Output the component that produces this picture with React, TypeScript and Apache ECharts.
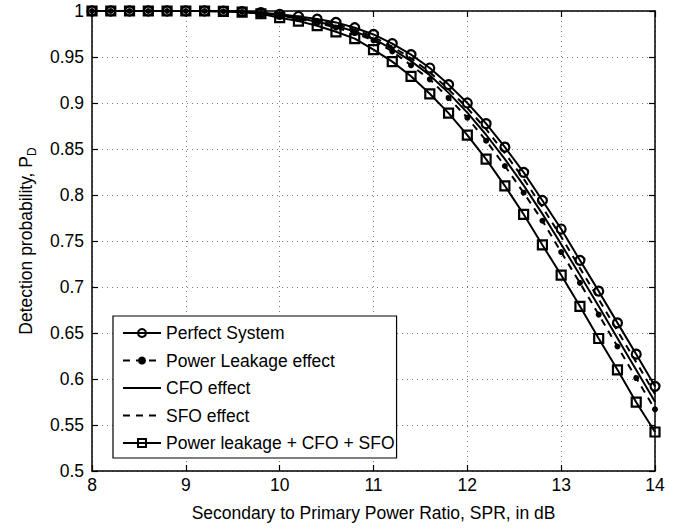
import React, { useEffect, useRef } from "react";
import * as echarts from "echarts";

const spr = [8.0, 8.2, 8.4, 8.6, 8.8, 9.0, 9.2, 9.4, 9.6, 9.8, 10.0, 10.2, 10.4, 10.6, 10.8, 11.0, 11.2, 11.4, 11.6, 11.8, 12.0, 12.2, 12.4, 12.6, 12.8, 13.0, 13.2, 13.4, 13.6, 13.8, 14.0];

const perfect = [1, 1, 1, 1, 1, 1, 1, 0.9998, 0.9993, 0.9982, 0.9964, 0.994, 0.9912, 0.9876, 0.9818, 0.9745, 0.9646, 0.9526, 0.938, 0.92, 0.9, 0.8775, 0.852, 0.8246, 0.794, 0.763, 0.729, 0.6955, 0.661, 0.627, 0.592];
const leakage = [1, 1, 1, 1, 1, 1, 1, 0.9997, 0.999, 0.9975, 0.995, 0.9915, 0.987, 0.982, 0.976, 0.968, 0.956, 0.941, 0.9257, 0.9054, 0.884, 0.859, 0.8315, 0.8025, 0.772, 0.738, 0.7045, 0.67, 0.6353, 0.601, 0.567];
const cfo = [1, 1, 1, 1, 1, 1, 1, 0.9997, 0.9991, 0.9978, 0.9955, 0.9923, 0.9884, 0.9838, 0.9778, 0.9696, 0.9586, 0.9455, 0.9302, 0.911, 0.8895, 0.8655, 0.839, 0.8105, 0.7795, 0.7465, 0.713, 0.679, 0.6443, 0.6098, 0.5752];
const sfo = [1, 1, 1, 1, 1, 1, 1, 0.9998, 0.9992, 0.998, 0.996, 0.9932, 0.9898, 0.9857, 0.9797, 0.9718, 0.9612, 0.9485, 0.9335, 0.9148, 0.8945, 0.8715, 0.8455, 0.8176, 0.7868, 0.7546, 0.7205, 0.6868, 0.6522, 0.6183, 0.5835];
const combined = [1, 1, 1, 1, 1, 1, 1, 0.9996, 0.9988, 0.997, 0.9927, 0.989, 0.984, 0.9774, 0.97, 0.958, 0.945, 0.929, 0.91, 0.889, 0.865, 0.839, 0.81, 0.779, 0.7457, 0.713, 0.679, 0.644, 0.61, 0.5748, 0.5424];

const seriesNames = ["Perfect System", "Power Leakage effect", "CFO effect", "SFO effect", "Power leakage + CFO + SFO"];
const xTitle = "Secondary to Primary Power Ratio, SPR, in dB";

const FONT = "'Liberation Sans', Arial, Helvetica, sans-serif";
const FS = 17.5;

function pairs(ys: number[]) {
  return spr.map((x, i) => [x, ys[i]]);
}

export default function App() {
  const ref = useRef<HTMLDivElement>(null);
  useEffect(() => {
    if (!ref.current) return;
    const chart = echarts.init(ref.current, undefined, { renderer: "svg" });
    const dotted = { color: "#7a7a7a", width: 1, type: [1, 4] as number[] };
    const axisLine = { show: true, lineStyle: { color: "#000", width: 1.5 } };
    const tick = { show: true, inside: true, length: 6, lineStyle: { color: "#000", width: 1.2 } };
    const label = { color: "#000", fontSize: FS, fontFamily: FONT };
    const hollow = "rgba(255,255,255,0)";
    chart.setOption({
      animation: false,
      backgroundColor: "#fff",
      grid: { left: 92, right: 31, top: 11, bottom: 58, containLabel: false },
      xAxis: [
        {
          type: "value", min: 8, max: 14, interval: 1, position: "bottom",
          axisLine, axisTick: tick,
          axisLabel: { ...label, margin: 5 },
          splitLine: { show: true, lineStyle: dotted },
          name: xTitle, nameLocation: "middle", nameGap: 33,
          nameTextStyle: { color: "#000", fontSize: FS, fontFamily: FONT },
        },
        {
          type: "value", min: 8, max: 14, interval: 1, position: "top",
          axisLine, axisTick: tick, axisLabel: { show: false }, splitLine: { show: false },
        },
      ],
      yAxis: [
        {
          type: "value", min: 0.5, max: 1, interval: 0.05, position: "left",
          axisLine, axisTick: tick,
          axisLabel: { ...label, margin: 8 },
          splitLine: { show: true, lineStyle: dotted },
          name: "Detection probability, P{sub|D}", nameLocation: "middle", nameGap: 54,
          nameTextStyle: {
            color: "#000", fontSize: FS, fontFamily: FONT,
            rich: { sub: { color: "#000", fontSize: 12, fontFamily: FONT, padding: [12, 0, 0, 0] } },
          },
        },
        {
          type: "value", min: 0.5, max: 1, interval: 0.05, position: "right",
          axisLine, axisTick: tick, axisLabel: { show: false }, splitLine: { show: false },
        },
      ],
      legend: {
        orient: "vertical", left: 113, top: 316,
        padding: [7, 2, 5, 9], itemGap: 7.5, itemWidth: 38, itemHeight: 10,
        backgroundColor: "#fff", borderColor: "#000", borderWidth: 1.2,
        textStyle: { color: "#000", fontSize: FS, fontFamily: FONT, lineHeight: 20 },
        data: [
          { name: seriesNames[0] },
          { name: seriesNames[1] },
          { name: seriesNames[2], itemStyle: { opacity: 0 } },
          { name: seriesNames[3], itemStyle: { opacity: 0 } },
          { name: seriesNames[4] },
        ],
      },
      series: [
        {
          name: seriesNames[0], type: "line", data: pairs(perfect),
          symbol: "circle", symbolSize: 9, showSymbol: true,
          lineStyle: { color: "#000", width: 2 },
          itemStyle: { color: hollow, borderColor: "#000", borderWidth: 2.2 },
        },
        {
          name: seriesNames[1], type: "line", data: pairs(leakage),
          symbol: "circle", symbolSize: 6,
          lineStyle: { color: "#000", width: 2, type: [7, 6] },
          itemStyle: { color: "#000", borderColor: "#000", borderWidth: 0 },
        },
        {
          name: seriesNames[2], type: "line", data: pairs(cfo),
          symbol: "none",
          lineStyle: { color: "#000", width: 2 },
          itemStyle: { color: "#000" },
        },
        {
          name: seriesNames[3], type: "line", data: pairs(sfo),
          symbol: "none",
          lineStyle: { color: "#000", width: 2, type: [7, 6] },
          itemStyle: { color: "#000" },
        },
        {
          name: seriesNames[4], type: "line", data: pairs(combined),
          symbol: "rect", symbolSize: 9,
          lineStyle: { color: "#000", width: 2 },
          itemStyle: { color: hollow, borderColor: "#000", borderWidth: 2.2 },
        },
      ],
    });
    return () => chart.dispose();
  }, []);
  return (
    <div
      ref={ref}
      style={{ position: "fixed", left: 0, top: 0, width: 686, height: 529, background: "#fff" }}
    />
  );
}
